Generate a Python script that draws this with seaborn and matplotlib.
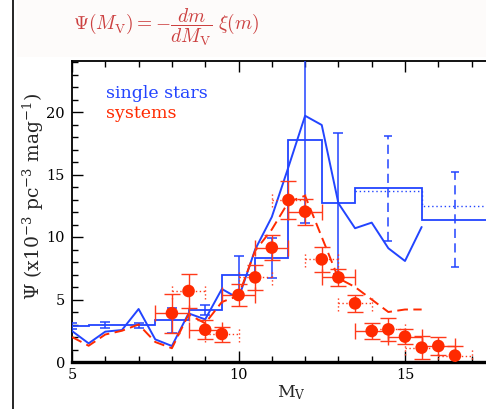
import numpy as np
import pandas as pd
import matplotlib
matplotlib.use("Agg")
import matplotlib.pyplot as plt
import seaborn as sns
from matplotlib.patches import Rectangle
from matplotlib.lines import Line2D
from matplotlib.ticker import MultipleLocator

# ---- single stars: luminosity function curve ----
single_mv = [5, 5.5, 6, 6.5, 7, 7.5, 8, 8.5, 9, 9.5, 10, 10.5, 11, 11.5,
             12, 12.5, 13, 13.5, 14, 14.5, 15, 15.5]
single_psi = [2.48, 1.49, 2.43, 2.56, 4.24, 1.81, 1.28, 3.89, 3.41, 5.84, 5.09,
              9.0, 11.6, 15.6, 19.7, 18.96, 12.7, 10.7, 11.15, 9.1, 8.08, 10.8]

# ---- single stars: binned histogram with errors ----
hist_edges = [4.5, 5.5, 6.5, 7.5, 8.5, 9.5, 10.5, 11.5, 12.5, 13.5, 15.5, 17.5]
hist_psi = [2.88, 2.96, 2.96, 3.36, 4.2, 7.0, 8.3, 17.8, 12.7, 13.9, 11.4]
hist_err = [0.22, 0.22, 0.2, 1.0, 0.4, 1.5, 1.6, 6.7, 5.65, 4.2, 3.8]
# alternative level of the two faint wide bins
faint_edges = [13.5, 15.5, 17.5]
faint_alt_psi = [13.7, 12.45]

# ---- systems: luminosity function curve ----
systems_mv = [5, 5.5, 6, 6.5, 7, 7.5, 8, 8.5, 9, 9.5, 10, 10.5, 11, 11.5,
              12, 12.5, 13, 13.5, 14, 14.5, 15, 15.5]
systems_psi = [2.0, 1.3, 2.2, 2.5, 3.0, 1.6, 1.1, 3.8, 3.1, 4.8, 5.3, 8.9, 10.6,
               12.8, 13.3, 10.0, 6.7, 6.0, 5.0, 4.0, 4.2, 4.2]

# ---- systems: binned points ----
points_mv = [8.0, 8.5, 9.0, 9.5, 10.0, 10.5, 11.0, 11.5, 12.0, 12.5, 13.0,
             13.5, 14.0, 14.5, 15.0, 15.5, 16.0, 16.5]
points_psi = [3.9, 5.68, 2.58, 2.24, 5.36, 6.77, 9.15, 12.96, 12.03, 8.21,
              6.77, 4.69, 2.48, 2.61, 2.03, 1.15, 1.28, 0.51]
points_err = [1.55, 1.33, 0.75, 0.6, 0.85, 1.0, 1.0, 1.55, 1.05, 1.0, 0.7,
              0.65, 0.65, 0.9, 0.6, 0.9, 0.7, 0.8]
points_halfbin = 0.5

BLUE = "#2244ff"
RED = "#ff2a00"
RED_BAR = "#ff3a1a"
FORMULA_RED = "#cc4040"

sns.set_theme(style="ticks")
plt.rcParams["font.family"] = ["DejaVu Serif"]
plt.rcParams["axes.linewidth"] = 1.2

W, H, DPI = 486, 409, 100
fig = plt.figure(figsize=(W / DPI, H / DPI), dpi=DPI)
fig.patch.set_facecolor("white")

# page furniture: light band behind the formula and the left rule
fig.patches.append(Rectangle((17 / W, 1 - 57 / H), 1, 57 / H,
                             transform=fig.transFigure, facecolor="#fdfbfa",
                             edgecolor="none", zorder=0))
fig.lines.append(Line2D([13 / W, 13 / W], [0, 1], transform=fig.transFigure,
                        color="black", lw=1.2))
fig.text(73 / W, 1 - 27 / H,
         r"$\Psi(M_{\rm V}) = -\dfrac{dm}{dM_{\rm V}}\;\xi(m)$",
         color=FORMULA_RED, fontsize=14, va="center", ha="left",
         math_fontfamily="cm")

ax_left, ax_right, ax_top, ax_bottom = 72, 486, 61, 362
ax = fig.add_axes([ax_left / W, 1 - ax_bottom / H,
                   (ax_right - ax_left) / W, (ax_bottom - ax_top) / H])
ax.set_facecolor("white")

# single-star histogram
ax.stairs(hist_psi, hist_edges, baseline=None, color=BLUE, lw=1.3, zorder=3)
ax.stairs(faint_alt_psi, faint_edges, baseline=None, color=BLUE, lw=1.0,
          linestyle=(0, (1, 2)), zorder=3)
edges = np.array(hist_edges)
centers = (edges[:-1] + edges[1:]) / 2
hist_psi_a = np.array(hist_psi)
hist_err_a = np.array(hist_err)
narrow = (edges[1:] - edges[:-1]) < 1.5
ax.errorbar(centers[narrow], hist_psi_a[narrow], yerr=hist_err_a[narrow],
            fmt="none", ecolor=BLUE, elinewidth=1.1, capsize=3.6,
            capthick=1.1, zorder=3)
eb = ax.errorbar(centers[~narrow], hist_psi_a[~narrow], yerr=hist_err_a[~narrow],
                 fmt="none", ecolor=BLUE, elinewidth=1.1, capsize=2.6,
                 capthick=1.1, zorder=3)
for lc in eb[2]:
    lc.set_linestyle((0, (6, 3.5)))

# single-star curve
df_single = pd.DataFrame({"mv": single_mv, "psi": single_psi})
sns.lineplot(data=df_single, x="mv", y="psi", ax=ax, color=BLUE, lw=1.4,
             estimator=None, sort=False, zorder=4)

# systems curve
df_sys = pd.DataFrame({"mv": systems_mv, "psi": systems_psi})
sns.lineplot(data=df_sys, x="mv", y="psi", ax=ax, color=RED, lw=1.4,
             estimator=None, sort=False, dashes=False, zorder=4,
             linestyle=(0, (5.5, 2.8)))

# systems points with error bars
pmv = np.array(points_mv)
ppsi = np.array(points_psi)
perr = np.array(points_err)
whole = np.isclose(np.mod(pmv, 1.0), 0.0)
ax.errorbar(pmv, ppsi, yerr=perr, fmt="none", ecolor=RED_BAR, elinewidth=1.0,
            capsize=5.5, capthick=1.0, zorder=5)
ax.errorbar(pmv[whole], ppsi[whole], xerr=points_halfbin, fmt="none",
            ecolor=RED_BAR, elinewidth=1.0, capsize=5.5, capthick=1.0, zorder=5)
half = ~whole
cap_h = 0.6
ax.hlines(ppsi[half], pmv[half] - points_halfbin, pmv[half] + points_halfbin,
          colors=RED_BAR, lw=1.0, linestyles=(0, (1, 1.8)), zorder=5)
for side in (-1, 1):
    ax.vlines(pmv[half] + side * points_halfbin, ppsi[half] - cap_h,
              ppsi[half] + cap_h, colors=RED_BAR, lw=1.0,
              linestyles=(0, (1, 1.8)), zorder=5)
df_pts = pd.DataFrame({"mv": points_mv, "psi": points_psi})
sns.scatterplot(data=df_pts, x="mv", y="psi", ax=ax, color=RED, s=82,
                edgecolor="none", zorder=6)

# labels
ax.text(106 / W, 1 - 94 / H, "single stars", transform=fig.transFigure,
        color=BLUE, fontsize=12.5, va="center", ha="left")
ax.text(106 / W, 1 - 113 / H, "systems", transform=fig.transFigure,
        color=RED, fontsize=12.5, va="center", ha="left")

ax.set_xlim(5, 5 + (ax_right - ax_left) / 33.3)
ax.set_ylim(0, (ax_bottom - ax_top) / 12.5)
ax.xaxis.set_major_locator(MultipleLocator(5))
ax.xaxis.set_minor_locator(MultipleLocator(1))
ax.yaxis.set_major_locator(MultipleLocator(5))
ax.yaxis.set_minor_locator(MultipleLocator(1))
ax.tick_params(which="both", direction="in", top=True, right=False,
               colors="black", labelsize=10.5, width=1.0)
ax.tick_params(which="major", length=8)
ax.tick_params(which="minor", length=4)
ax.tick_params(axis="x", pad=4)
ax.tick_params(axis="y", pad=5)
for t in ax.get_xticklabels() + ax.get_yticklabels():
    t.set_fontfamily("DejaVu Serif")

ax.spines["right"].set_visible(False)
ax.spines["bottom"].set_linewidth(2.4)
for s in ("left", "top"):
    ax.spines[s].set_linewidth(1.3)
    ax.spines[s].set_color("black")
ax.spines["bottom"].set_color("black")

ax.set_xlabel(r"M$_{\rm V}$", fontsize=12.5, math_fontfamily="dejavuserif")
ax.xaxis.set_label_coords((291 - ax_left) / (ax_right - ax_left),
                          -(393 - ax_bottom) / (ax_bottom - ax_top))
ax.xaxis.label.set_va("center")
ax.set_ylabel(r"$\Psi$ (x10$^{-3}$ pc$^{-3}$ mag$^{-1}$)", fontsize=13.5,
              math_fontfamily="dejavuserif")
ax.yaxis.set_label_coords(-(ax_left - 33) / (ax_right - ax_left),
                          (ax_bottom - 196) / (ax_bottom - ax_top))
ax.yaxis.label.set_va("center")

fig.savefig("out.png", dpi=DPI)
